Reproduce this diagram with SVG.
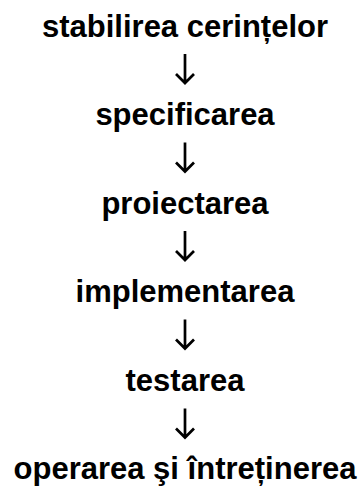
<svg xmlns="http://www.w3.org/2000/svg" width="360" height="486" viewBox="0 0 360 486">
<style>
.t{font-family:"Liberation Sans",Arial,sans-serif;font-weight:bold;font-size:31px;fill:#000;text-anchor:middle}
.a{fill:none;stroke:#000;stroke-width:2.7}
</style>
<defs>
<path id="arr" class="a" d="M0,0V29M-9,20L0,29L9,20"/>
</defs>
<rect width="360" height="486" fill="#fff"/>
<g id="connectors">
<use href="#arr" x="185" y="54"/>
<use href="#arr" x="185" y="142.5"/>
<use href="#arr" x="185" y="231"/>
<use href="#arr" x="185" y="319.5"/>
<use href="#arr" x="185" y="408.5"/>
</g>
<g id="n1"><text class="t" x="185" y="37">stabilirea cerințelor</text></g>
<g id="n2"><text class="t" x="185" y="125">specificarea</text></g>
<g id="n3"><text class="t" x="185" y="213.5">proiectarea</text></g>
<g id="n4"><text class="t" x="185" y="302">implementarea</text></g>
<g id="n5"><text class="t" x="185" y="390.5">testarea</text></g>
<g id="n6"><text class="t" x="185" y="478.5">operarea şi întreținerea</text></g>
</svg>
